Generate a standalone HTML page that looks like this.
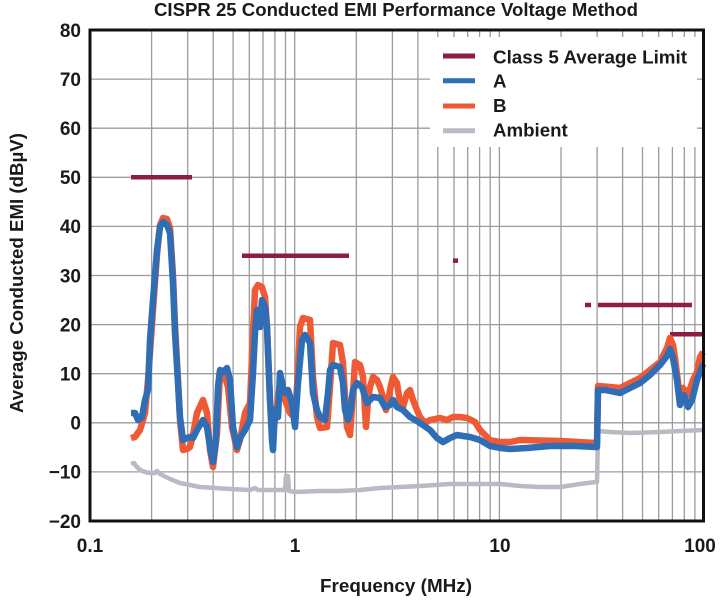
<!DOCTYPE html>
<html><head><meta charset="utf-8"><style>
html,body{margin:0;padding:0;background:#fff;}
svg{display:block;}
text{font-family:"Liberation Sans",Arial,sans-serif;font-weight:bold;fill:#1a1a1a;}
</style></head><body>
<svg width="720" height="600" viewBox="0 0 720 600" xmlns="http://www.w3.org/2000/svg">
<rect x="0" y="0" width="720" height="600" fill="#fff"/>
<text x="396" y="16" font-size="18.5" text-anchor="middle" textLength="484" lengthAdjust="spacingAndGlyphs">CISPR 25 Conducted EMI Performance Voltage Method</text>
<!-- grid -->
<g stroke="#9c9c9c" stroke-width="1.3" fill="none">
<path d="M151.6 30V521M187.7 30V521M213.2 30V521M233.1 30V521M249.3 30V521M263 30V521M274.9 30V521M285.5 30V521M294.7 30V521
M356.3 30V521M392.4 30V521M417.9 30V521M437.8 30V521M454 30V521M467.7 30V521M479.6 30V521M490.2 30V521M499.4 30V521
M561 30V521M597.1 30V521M622.6 30V521M642.5 30V521M658.7 30V521M672.4 30V521M684.3 30V521M694.9 30V521"/>
<path d="M90 79.1H704M90 128.2H704M90 177.3H704M90 226.4H704M90 275.5H704M90 324.6H704M90 373.7H704M90 422.8H704M90 471.9H704"/>
</g>
<!-- legend bg -->
<rect x="430" y="37" width="267" height="110" fill="#fff"/>
<!-- limits -->
<g stroke="#8f1d40" stroke-width="4.5" fill="none">
<path d="M131 177.3H192"/>
<path d="M242 255.8H349"/>
<path d="M453 260.7H458"/>
<path d="M585 305H591"/>
<path d="M598 305H692"/>
<path d="M670 334.3H704"/>
</g>
<!-- ambient -->
<polyline fill="none" stroke="#b9bac3" stroke-width="4.5" stroke-linejoin="round" points="131,464 134,463 136,466 140,470 145,472 150,473 155,473 157,471 160,474 170,479 180,483 190,485 200,487 215,488 230,489 250,490 255,488 258,490 270,490 285,490 286,476 288,476 289,491 295,492 320,491 340,491 360,490 380,488 400,487 420,486 450,484 480,484 500,484 520,486 540,487 560,487 580,484 596,482 597,482 598,431 610,432 630,433 660,432 680,431 703,430"/>
<!-- B orange -->
<polyline fill="none" stroke="#ef5a35" stroke-width="6.5" stroke-linejoin="round" points="131,438 135,437 140,430 145,413 148,380 150,353 153,310 157,255 160,225 163,218 167,219 170,228 173,275 175,325 178,380 180,420 183,450 187,449 190,447 193,435 197,413 203,400 207,413 210,450 213,467 217,433 220,373 225,377 228,387 232,427 237,450 240,440 245,413 250,403 253,333 255,290 258,285 262,287 265,297 267,327 270,400 273,433 277,407 280,383 285,400 290,413 295,418 298,370 300,327 303,318 310,320 313,377 317,417 320,428 327,427 330,387 333,343 340,345 343,363 347,427 350,435 353,393 355,362 360,365 363,377 366,427 368,400 370,387 373,377 377,380 380,387 383,397 386,410 388,403 390,390 393,377 397,383 400,403 403,407 407,393 410,390 413,400 417,410 420,417 425,423 430,420 440,418 447,420 453,417 460,417 467,418 475,422 480,430 490,440 500,442 510,442 520,440 560,441 596,443 597,443 598,386 610,387 620,388 630,383 640,378 650,370 660,362 667,348 670,338 673,345 675,358 679,390 683,388 688,395 693,380 697,372 700,357 703,352"/>
<!-- A blue -->
<polyline fill="none" stroke="#2f6db5" stroke-width="6.5" stroke-linejoin="round" points="131,413 135,413 138,420 142,417 145,400 148,390 150,340 153,300 157,250 160,227 163,222 167,225 170,233 173,283 175,333 178,383 180,417 183,440 187,438 190,437 193,438 197,430 203,420 207,427 210,447 213,462 216,440 218,387 220,370 223,372 227,368 230,380 233,427 237,447 240,438 245,430 250,420 253,373 255,333 257,310 260,327 262,300 265,307 267,327 270,400 272,440 273,450 275,410 278,417 280,373 283,387 285,393 288,390 292,403 295,427 298,383 302,340 305,335 310,343 313,393 317,410 320,417 325,420 328,393 330,370 333,365 340,367 343,383 345,410 348,420 350,413 353,390 357,383 362,387 367,403 370,400 373,397 380,398 385,407 390,405 393,400 397,407 403,410 410,417 420,423 430,430 437,438 443,442 450,438 457,435 463,436 470,437 480,440 490,446 500,448 510,449 527,448 550,446 575,446 596,447 597,447 598,390 605,390 620,393 630,388 640,383 650,375 660,365 667,356 670,349 673,358 677,380 680,405 684,395 688,407 692,400 697,380 703,364"/>
<!-- border -->
<rect x="90" y="30" width="613.5" height="491" fill="none" stroke="#111" stroke-width="3"/>
<!-- legend -->
<g stroke-width="5">
<line x1="443" y1="56" x2="475" y2="56" stroke="#8f1d40"/>
<line x1="443" y1="80.7" x2="475" y2="80.7" stroke="#2f6db5"/>
<line x1="443" y1="106" x2="475" y2="106" stroke="#ef5a35"/>
<line x1="443" y1="130.7" x2="475" y2="130.7" stroke="#b9bac3"/>
</g>
<g font-size="18.7">
<text x="493" y="63.3" textLength="194" lengthAdjust="spacingAndGlyphs">Class 5 Average Limit</text>
<text x="493" y="87.5">A</text>
<text x="493" y="112">B</text>
<text x="493" y="136.3">Ambient</text>
</g>
<!-- y ticks -->
<g font-size="19" text-anchor="end">
<text x="81" y="36.8">80</text>
<text x="81" y="85.9">70</text>
<text x="81" y="135">60</text>
<text x="81" y="184.1">50</text>
<text x="81" y="233.2">40</text>
<text x="81" y="282.3">30</text>
<text x="81" y="331.4">20</text>
<text x="81" y="380.5">10</text>
<text x="81" y="429.6">0</text>
<text x="81" y="478.7">−10</text>
<text x="81" y="527.8">−20</text>
</g>
<!-- x ticks -->
<g font-size="19" text-anchor="middle">
<text x="90" y="552">0.1</text>
<text x="295" y="552">1</text>
<text x="500" y="552">10</text>
<text x="700" y="552">100</text>
</g>
<text x="396" y="592" font-size="18.9" text-anchor="middle" textLength="152" lengthAdjust="spacingAndGlyphs">Frequency (MHz)</text>
<text transform="translate(23,273) rotate(-90)" x="0" y="0" font-size="18.5" text-anchor="middle" textLength="280" lengthAdjust="spacingAndGlyphs">Average Conducted EMI (dBµV)</text>
</svg>
</body></html>
